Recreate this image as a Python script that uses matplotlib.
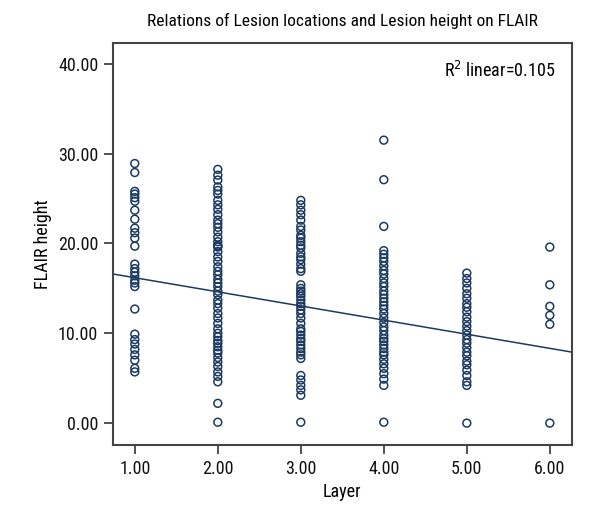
import matplotlib
matplotlib.use("Agg")
import matplotlib.pyplot as plt
from matplotlib.ticker import FormatStrFormatter
import numpy as np

plt.rcParams['font.family'] = ['Roboto Condensed', 'Open Sans Condensed', 'DejaVu Sans']
plt.rcParams['font.stretch'] = 'condensed'

# FLAIR height per layer
layer1 = [28.9, 27.9, 25.8, 25.5, 25.1, 24.7, 23.7, 22.7, 21.7, 21.2, 20.6, 19.7,
          17.7, 17.2, 16.8, 16.4, 15.9, 15.6, 15.2, 12.7, 9.9, 9.3, 8.8, 8.2,
          7.6, 7.0, 6.1, 5.7]
layer2 = [28.25, 27.6, 27.06, 26.3, 25.9, 25.5, 24.8, 24.3, 23.8, 23.2, 22.6, 22.2,
          21.8, 21.3, 20.7, 20.2, 19.8, 19.7, 19.6, 19.1, 18.5, 18.0, 17.4, 16.9,
          16.5, 16.0, 15.6, 15.2, 14.7, 14.3, 13.7, 13.3, 12.8, 12.2, 11.7, 11.1,
          10.5, 10.0, 9.6, 9.2, 8.9, 8.5, 8.1, 7.8, 7.3, 6.8, 6.3, 5.7, 5.2, 4.6,
          2.2, 0.1]
layer3 = [24.8, 24.3, 23.7, 23.2, 22.6, 21.9, 21.5, 20.9, 20.6, 20.2, 19.8, 19.5,
          18.9, 18.5, 18.2, 17.7, 17.2, 16.9, 15.4, 15.0, 14.7, 14.4, 14.1, 13.7,
          13.3, 13.0, 12.6, 12.2, 11.7, 11.1, 10.5, 10.2, 9.8, 9.4, 9.1, 8.7, 8.3,
          7.9, 7.6, 7.2, 5.3, 4.8, 4.2, 3.7, 3.1, 0.1]
layer4 = [31.5, 27.1, 21.9, 19.2, 18.8, 18.4, 18.0, 17.5, 17.0, 16.6, 16.1, 15.6,
          15.2, 14.7, 14.3, 13.9, 13.5, 13.1, 12.7, 12.2, 11.7, 11.2, 10.7, 10.3,
          9.8, 9.4, 9.1, 8.7, 8.3, 7.9, 7.6, 7.1, 6.6, 6.1, 5.5, 4.9, 4.2, 0.1]
layer5 = [16.7, 16.1, 15.6, 15.0, 14.4, 13.9, 13.3, 12.9, 12.4, 11.8, 11.3, 10.8,
          10.3, 9.8, 9.3, 8.9, 8.4, 7.9, 7.5, 6.9, 6.5, 5.9, 5.3, 4.6, 4.2, 0.0]
layer6 = [19.6, 15.4, 13.0, 12.0, 11.0, 0.0]

# fit line as shown in the chart (R2 linear = 0.105)
fit_intercept = 17.76
fit_slope = -1.573

groups = [layer1, layer2, layer3, layer4, layer5, layer6]
x = np.concatenate([np.full(len(g), i + 1.0) for i, g in enumerate(groups)])
y = np.concatenate([np.array(g) for g in groups])

navy = '#1b3a63'

fig = plt.figure(figsize=(6, 5.2), dpi=100)
ax = fig.add_axes([0.188, 0.144, 0.765, 0.773])

ax.scatter(x, y, s=32, facecolors='none', edgecolors=navy, linewidths=1.1, zorder=3)

xl = np.array([0.735, 6.265])
ax.plot(xl, fit_intercept + fit_slope * xl, color=navy, lw=1.1, zorder=2)

ax.set_xlim(0.735, 6.265)
ax.set_ylim(-2.45, 42.3)
ax.set_xticks([1, 2, 3, 4, 5, 6])
ax.set_yticks([0, 10, 20, 30, 40])
ax.xaxis.set_major_formatter(FormatStrFormatter('%.2f'))
ax.yaxis.set_major_formatter(FormatStrFormatter('%.2f'))
ax.tick_params(direction='out', length=6.5, width=1.2, pad=4, labelsize=13,
               colors='#333333', labelcolor='#111111')
for sp in ax.spines.values():
    sp.set_color('#444444')
    sp.set_linewidth(1.5)

ax.set_xlabel('Layer', fontsize=13, labelpad=4)
ax.set_ylabel('FLAIR height', fontsize=13, labelpad=4)
ax.set_title('Relations of Lesion locations and Lesion height on FLAIR', fontsize=12.5, pad=12)
ax.text(0.963, 0.955, r'R$^{2}$ linear=0.105', transform=ax.transAxes,
        ha='right', va='top', fontsize=13)

fig.savefig('out.png', dpi=100)
